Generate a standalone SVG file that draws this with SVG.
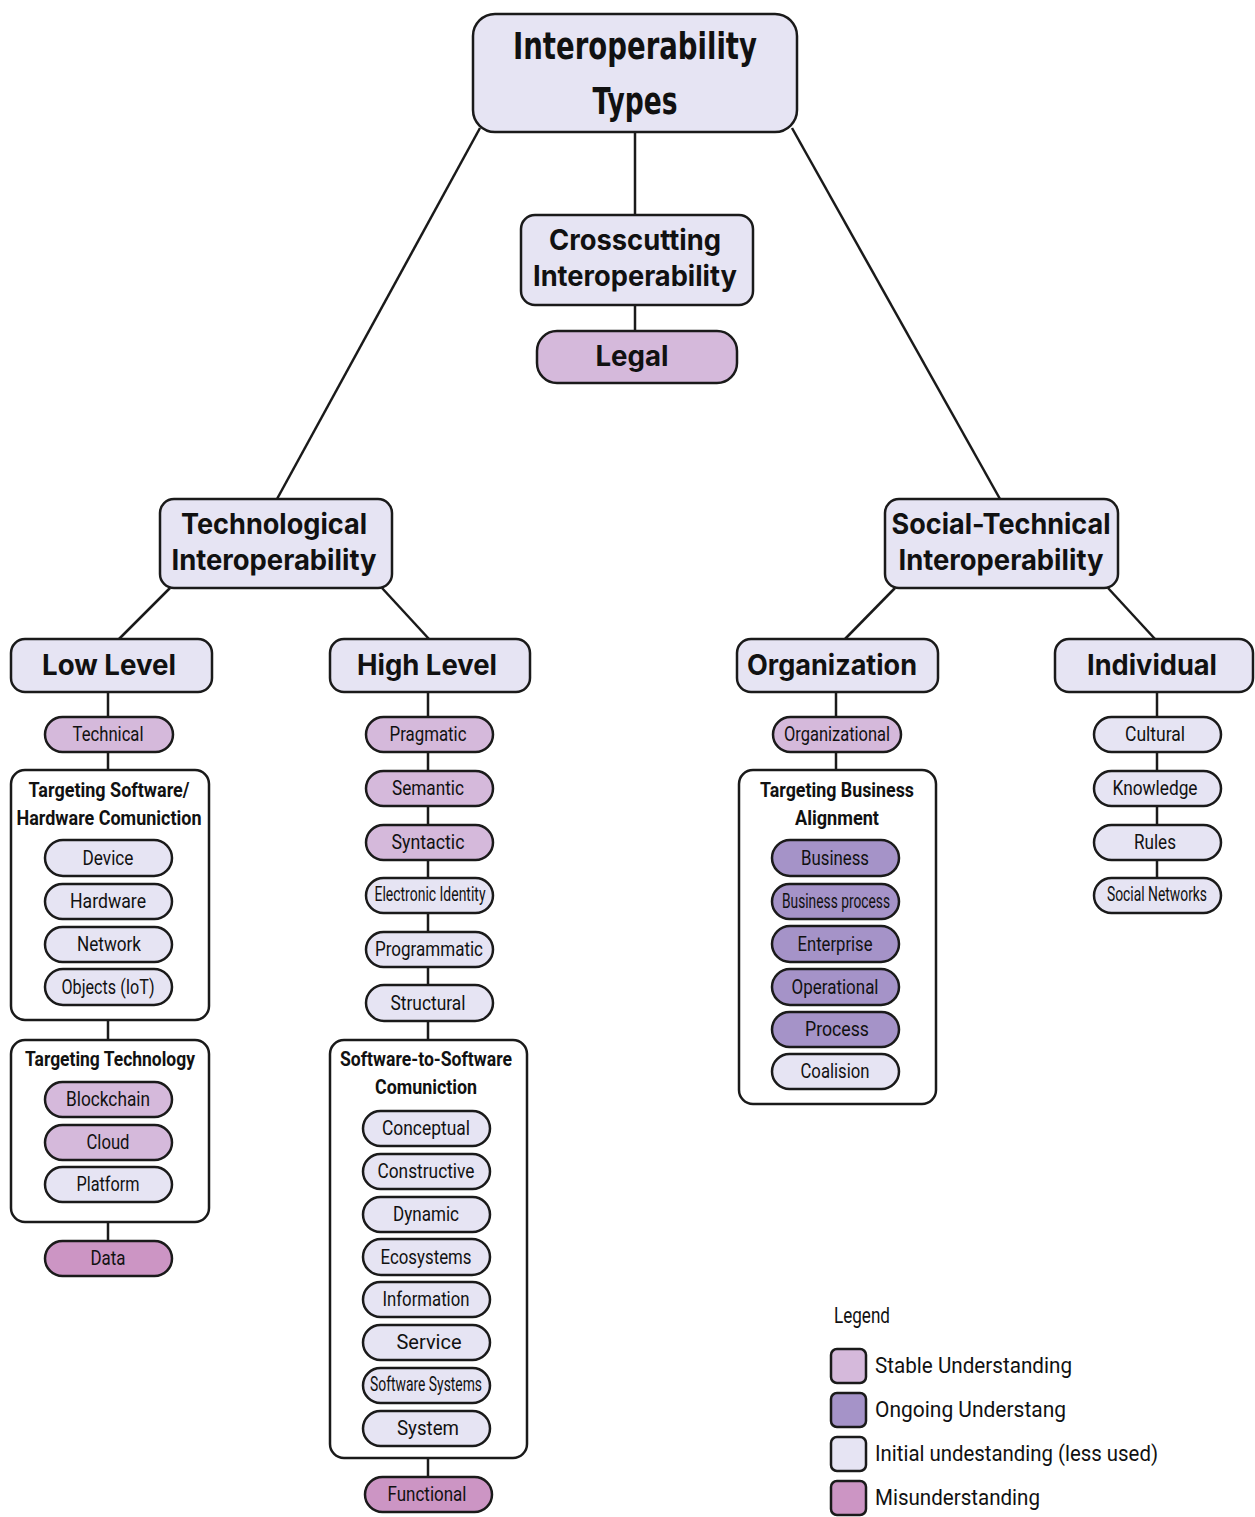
<svg xmlns="http://www.w3.org/2000/svg" width="1255" height="1517" viewBox="0 0 1255 1517">
<style>
.bg{fill:#ffffff}
.box{stroke:#1a1a1a;stroke-width:2.5}
.ini{fill:#e6e4f3}
.sta{fill:#d5b9db}
.ong{fill:#a593c8}
.mis{fill:#cc95c4}
.wht{fill:#ffffff}
.ln{stroke:#1a1a1a;stroke-width:2.5;fill:none}
.big{font-family:Inter,"Liberation Sans",sans-serif;font-weight:700;font-size:28px;fill:#111;text-anchor:middle}
.ttl{font-family:"DejaVu Sans",sans-serif;font-weight:700;font-size:38px;fill:#111;text-anchor:middle}
.pl{font-family:Roboto,"Liberation Sans",sans-serif;font-size:20px;fill:#111;text-anchor:middle}
.ct{font-family:Roboto,"Liberation Sans",sans-serif;font-weight:700;font-size:20px;fill:#111;text-anchor:middle}
.lg{font-family:Roboto,"Liberation Sans",sans-serif;font-size:22px;fill:#111}
</style>
<rect class="bg" x="0" y="0" width="1255" height="1517"/>
<g id="connectors">
<line class="ln" x1="480" y1="128" x2="277" y2="499"/>
<line class="ln" x1="635" y1="132" x2="635" y2="215"/>
<line class="ln" x1="792" y1="128" x2="1000" y2="499"/>
<line class="ln" x1="635" y1="305" x2="635" y2="331"/>
<line class="ln" x1="170" y1="588" x2="119" y2="639"/>
<line class="ln" x1="382" y1="588" x2="429" y2="639"/>
<line class="ln" x1="895" y1="588" x2="845" y2="639"/>
<line class="ln" x1="1108" y1="588" x2="1155" y2="639"/>
<line class="ln" x1="108" y1="692" x2="108" y2="770"/>
<line class="ln" x1="108" y1="1020" x2="108" y2="1040"/>
<line class="ln" x1="108" y1="1222" x2="108" y2="1241"/>
<line class="ln" x1="428" y1="692" x2="428" y2="1040"/>
<line class="ln" x1="428" y1="1458" x2="428" y2="1477"/>
<line class="ln" x1="836" y1="692" x2="836" y2="770"/>
<line class="ln" x1="1157" y1="692" x2="1157" y2="878"/>
</g>
<g id="title"><rect class="box ini" x="473" y="14" width="324" height="118" rx="22"/>
<text class="ttl" x="635" y="59" textLength="244" lengthAdjust="spacingAndGlyphs">Interoperability</text>
<text class="ttl" x="635" y="114" textLength="85" lengthAdjust="spacingAndGlyphs">Types</text></g>
<g id="crosscutting"><rect class="box ini" x="521" y="215" width="232" height="90" rx="14"/>
<text class="big" x="635" y="250" textLength="172" lengthAdjust="spacingAndGlyphs">Crosscutting</text>
<text class="big" x="635" y="286" textLength="204" lengthAdjust="spacingAndGlyphs">Interoperability</text></g>
<g id="legal"><rect class="box sta" x="537" y="331" width="200" height="52" rx="20"/>
<text class="big" x="632" y="366" textLength="73" lengthAdjust="spacingAndGlyphs">Legal</text></g>
<g id="technological"><rect class="box ini" x="160" y="499" width="232" height="89" rx="14"/>
<text class="big" x="274" y="534" textLength="186" lengthAdjust="spacingAndGlyphs">Technological</text>
<text class="big" x="274" y="570" textLength="205" lengthAdjust="spacingAndGlyphs">Interoperability</text></g>
<g id="socialtech"><rect class="box ini" x="885" y="499" width="233" height="89" rx="14"/>
<text class="big" x="1001" y="534" textLength="219" lengthAdjust="spacingAndGlyphs">Social-Technical</text>
<text class="big" x="1001" y="570" textLength="205" lengthAdjust="spacingAndGlyphs">Interoperability</text></g>
<g id="lowlevel"><rect class="box ini" x="11" y="639" width="201" height="53" rx="14"/>
<text class="big" x="109" y="675" textLength="134" lengthAdjust="spacingAndGlyphs">Low Level</text></g>
<g id="highlevel"><rect class="box ini" x="330" y="639" width="200" height="53" rx="14"/>
<text class="big" x="427" y="675" textLength="140" lengthAdjust="spacingAndGlyphs">High Level</text></g>
<g id="organization"><rect class="box ini" x="737" y="639" width="201" height="53" rx="14"/>
<text class="big" x="832" y="675" textLength="170" lengthAdjust="spacingAndGlyphs">Organization</text></g>
<g id="individual"><rect class="box ini" x="1055" y="639" width="198" height="53" rx="14"/>
<text class="big" x="1152" y="675" textLength="130" lengthAdjust="spacingAndGlyphs">Individual</text></g>

<g id="lowcol">
<g id="technical"><rect class="box sta" x="45" y="717" width="128" height="35" rx="17.5"/><text class="pl" x="108" y="741" textLength="71" lengthAdjust="spacingAndGlyphs">Technical</text></g>
<g id="tsw"><rect class="box wht" x="11" y="770" width="198" height="250" rx="14"/>
<text class="ct" x="109" y="797" textLength="161" lengthAdjust="spacingAndGlyphs">Targeting Software/</text>
<text class="ct" x="109" y="825" textLength="185" lengthAdjust="spacingAndGlyphs">Hardware Comuniction</text></g>
<g id="device"><rect class="box ini" x="45" y="840" width="127" height="36" rx="18"/><text class="pl" x="108" y="865" textLength="51" lengthAdjust="spacingAndGlyphs">Device</text></g>
<g id="hardware"><rect class="box ini" x="45" y="884" width="127" height="35" rx="17.5"/><text class="pl" x="108" y="908" textLength="76" lengthAdjust="spacingAndGlyphs">Hardware</text></g>
<g id="network"><rect class="box ini" x="45" y="927" width="127" height="35" rx="17.5"/><text class="pl" x="109" y="951" textLength="64" lengthAdjust="spacingAndGlyphs">Network</text></g>
<g id="objects"><rect class="box ini" x="45" y="969" width="127" height="36" rx="18"/><text class="pl" x="108" y="994" textLength="93" lengthAdjust="spacingAndGlyphs">Objects (IoT)</text></g>
<g id="ttech"><rect class="box wht" x="11" y="1040" width="198" height="182" rx="14"/>
<text class="ct" x="110" y="1066" textLength="170" lengthAdjust="spacingAndGlyphs">Targeting Technology</text></g>
<g id="blockchain"><rect class="box sta" x="45" y="1082" width="127" height="35" rx="17.5"/><text class="pl" x="108" y="1106" textLength="84" lengthAdjust="spacingAndGlyphs">Blockchain</text></g>
<g id="cloud"><rect class="box sta" x="45" y="1125" width="127" height="35" rx="17.5"/><text class="pl" x="108" y="1149" textLength="43" lengthAdjust="spacingAndGlyphs">Cloud</text></g>
<g id="platform"><rect class="box ini" x="45" y="1167" width="127" height="35" rx="17.5"/><text class="pl" x="108" y="1191" textLength="63" lengthAdjust="spacingAndGlyphs">Platform</text></g>
<g id="data"><rect class="box mis" x="45" y="1241" width="127" height="35" rx="17.5"/><text class="pl" x="108" y="1265" textLength="35" lengthAdjust="spacingAndGlyphs">Data</text></g>
</g>

<g id="highcol">
<g id="pragmatic"><rect class="box sta" x="366" y="717" width="127" height="35" rx="17.5"/><text class="pl" x="428" y="741" textLength="77" lengthAdjust="spacingAndGlyphs">Pragmatic</text></g>
<g id="semantic"><rect class="box sta" x="366" y="771" width="127" height="35" rx="17.5"/><text class="pl" x="428" y="795" textLength="72" lengthAdjust="spacingAndGlyphs">Semantic</text></g>
<g id="syntactic"><rect class="box sta" x="366" y="825" width="127" height="35" rx="17.5"/><text class="pl" x="428" y="849" textLength="73" lengthAdjust="spacingAndGlyphs">Syntactic</text></g>
<g id="eid"><rect class="box ini" x="366" y="878" width="127" height="35" rx="17.5"/><text class="pl" x="430" y="901" font-size="17" textLength="111" lengthAdjust="spacingAndGlyphs">Electronic Identity</text></g>
<g id="programmatic"><rect class="box ini" x="366" y="932" width="127" height="35" rx="17.5"/><text class="pl" x="429" y="956" textLength="108" lengthAdjust="spacingAndGlyphs">Programmatic</text></g>
<g id="structural"><rect class="box ini" x="366" y="985" width="127" height="36" rx="18"/><text class="pl" x="428" y="1010" textLength="75" lengthAdjust="spacingAndGlyphs">Structural</text></g>
<g id="sws"><rect class="box wht" x="330" y="1040" width="197" height="418" rx="14"/>
<text class="ct" x="426" y="1066" textLength="172" lengthAdjust="spacingAndGlyphs">Software-to-Software</text>
<text class="ct" x="426" y="1094" textLength="102" lengthAdjust="spacingAndGlyphs">Comuniction</text></g>
<g id="conceptual"><rect class="box ini" x="363" y="1111" width="127" height="35" rx="17.5"/><text class="pl" x="426" y="1135" textLength="88" lengthAdjust="spacingAndGlyphs">Conceptual</text></g>
<g id="constructive"><rect class="box ini" x="363" y="1154" width="127" height="35" rx="17.5"/><text class="pl" x="426" y="1178" textLength="97" lengthAdjust="spacingAndGlyphs">Constructive</text></g>
<g id="dynamic"><rect class="box ini" x="363" y="1197" width="127" height="35" rx="17.5"/><text class="pl" x="426" y="1221" textLength="66" lengthAdjust="spacingAndGlyphs">Dynamic</text></g>
<g id="ecosystems"><rect class="box ini" x="363" y="1239" width="127" height="36" rx="18"/><text class="pl" x="426" y="1264" textLength="91" lengthAdjust="spacingAndGlyphs">Ecosystems</text></g>
<g id="information"><rect class="box ini" x="363" y="1282" width="127" height="35" rx="17.5"/><text class="pl" x="426" y="1306" textLength="87" lengthAdjust="spacingAndGlyphs">Information</text></g>
<g id="service"><rect class="box ini" x="363" y="1325" width="127" height="35" rx="17.5"/><text class="pl" x="429" y="1349" textLength="65" lengthAdjust="spacingAndGlyphs">Service</text></g>
<g id="softsys"><rect class="box ini" x="363" y="1368" width="127" height="35" rx="17.5"/><text class="pl" x="426" y="1391" font-size="17" textLength="112" lengthAdjust="spacingAndGlyphs">Software Systems</text></g>
<g id="system"><rect class="box ini" x="363" y="1411" width="127" height="35" rx="17.5"/><text class="pl" x="428" y="1435" textLength="62" lengthAdjust="spacingAndGlyphs">System</text></g>
<g id="functional"><rect class="box mis" x="365" y="1477" width="127" height="35" rx="17.5"/><text class="pl" x="427" y="1501" textLength="79" lengthAdjust="spacingAndGlyphs">Functional</text></g>
</g>

<g id="orgcol">
<g id="organizational"><rect class="box sta" x="773" y="717" width="128" height="35" rx="17.5"/><text class="pl" x="837" y="741" textLength="106" lengthAdjust="spacingAndGlyphs">Organizational</text></g>
<g id="tba"><rect class="box wht" x="739" y="770" width="197" height="334" rx="14"/>
<text class="ct" x="837" y="797" textLength="154" lengthAdjust="spacingAndGlyphs">Targeting Business</text>
<text class="ct" x="837" y="825" textLength="84" lengthAdjust="spacingAndGlyphs">Alignment</text></g>
<g id="business"><rect class="box ong" x="772" y="840" width="127" height="36" rx="18"/><text class="pl" x="835" y="865" textLength="68" lengthAdjust="spacingAndGlyphs">Business</text></g>
<g id="bprocess"><rect class="box ong" x="772" y="884" width="127" height="35" rx="17.5"/><text class="pl" x="836" y="908" font-size="17" textLength="108" lengthAdjust="spacingAndGlyphs">Business process</text></g>
<g id="enterprise"><rect class="box ong" x="772" y="926" width="127" height="36" rx="18"/><text class="pl" x="835" y="951" textLength="75" lengthAdjust="spacingAndGlyphs">Enterprise</text></g>
<g id="operational"><rect class="box ong" x="772" y="969" width="127" height="36" rx="18"/><text class="pl" x="835" y="994" textLength="87" lengthAdjust="spacingAndGlyphs">Operational</text></g>
<g id="process"><rect class="box ong" x="772" y="1012" width="127" height="35" rx="17.5"/><text class="pl" x="837" y="1036" textLength="64" lengthAdjust="spacingAndGlyphs">Process</text></g>
<g id="coalision"><rect class="box ini" x="772" y="1054" width="127" height="35" rx="17.5"/><text class="pl" x="835" y="1078" textLength="69" lengthAdjust="spacingAndGlyphs">Coalision</text></g>
</g>

<g id="indcol">
<g id="cultural"><rect class="box ini" x="1094" y="717" width="127" height="35" rx="17.5"/><text class="pl" x="1155" y="741" textLength="60" lengthAdjust="spacingAndGlyphs">Cultural</text></g>
<g id="knowledge"><rect class="box ini" x="1094" y="771" width="127" height="35" rx="17.5"/><text class="pl" x="1155" y="795" textLength="85" lengthAdjust="spacingAndGlyphs">Knowledge</text></g>
<g id="rules"><rect class="box ini" x="1094" y="825" width="127" height="35" rx="17.5"/><text class="pl" x="1155" y="849" textLength="42" lengthAdjust="spacingAndGlyphs">Rules</text></g>
<g id="socialnet"><rect class="box ini" x="1094" y="878" width="127" height="35" rx="17.5"/><text class="pl" x="1157" y="901" font-size="17" textLength="100" lengthAdjust="spacingAndGlyphs">Social Networks</text></g>
</g>

<g id="legend">
<text class="lg" x="834" y="1323" font-size="20" textLength="56" lengthAdjust="spacingAndGlyphs">Legend</text>
<rect class="box sta" x="831" y="1349" width="35" height="34" rx="6"/>
<text class="lg" x="875" y="1373" textLength="197" lengthAdjust="spacingAndGlyphs">Stable Understanding</text>
<rect class="box ong" x="831" y="1393" width="35" height="34" rx="6"/>
<text class="lg" x="875" y="1417" textLength="191" lengthAdjust="spacingAndGlyphs">Ongoing Understang</text>
<rect class="box ini" x="831" y="1437" width="35" height="34" rx="6"/>
<text class="lg" x="875" y="1461" textLength="283" lengthAdjust="spacingAndGlyphs">Initial undestanding (less used)</text>
<rect class="box mis" x="831" y="1481" width="35" height="34" rx="6"/>
<text class="lg" x="875" y="1505" textLength="165" lengthAdjust="spacingAndGlyphs">Misunderstanding</text>
</g>
</svg>
